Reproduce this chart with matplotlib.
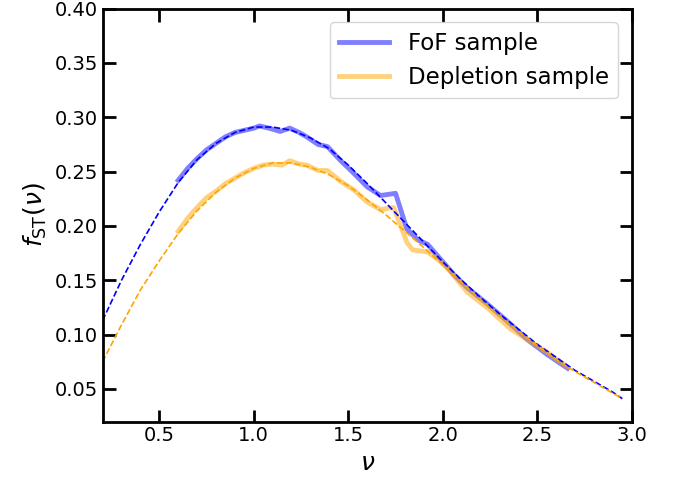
import numpy as np
import matplotlib
matplotlib.use("Agg")
import matplotlib.pyplot as plt

# measured mass function, FoF sample
nu_fof = [0.60, 0.65, 0.70, 0.75, 0.80, 0.85, 0.90, 0.95, 1.00, 1.03, 1.08, 1.14,
          1.19, 1.24, 1.28, 1.34, 1.39, 1.46, 1.52, 1.60, 1.67, 1.75, 1.81, 1.87,
          1.92, 2.00, 2.06, 2.13, 2.23, 2.35, 2.45, 2.55, 2.66]
f_fof = [0.242, 0.253, 0.262, 0.270, 0.276, 0.282, 0.286, 0.288, 0.290, 0.292, 0.290, 0.287,
         0.290, 0.286, 0.282, 0.275, 0.273, 0.260, 0.250, 0.236, 0.228, 0.230, 0.197, 0.187,
         0.183, 0.167, 0.155, 0.143, 0.129, 0.111, 0.095, 0.082, 0.069]

# measured mass function, depletion sample
nu_dep = [0.60, 0.65, 0.70, 0.75, 0.80, 0.85, 0.90, 0.95, 1.00, 1.05, 1.10, 1.15,
          1.19, 1.24, 1.28, 1.34, 1.39, 1.46, 1.53, 1.60, 1.67, 1.74, 1.81, 1.84,
          1.92, 1.99, 2.04, 2.13, 2.24, 2.36, 2.45, 2.55, 2.66]
f_dep = [0.195, 0.207, 0.217, 0.226, 0.232, 0.239, 0.244, 0.249, 0.253, 0.256, 0.257, 0.256,
         0.260, 0.257, 0.256, 0.251, 0.251, 0.241, 0.233, 0.222, 0.215, 0.217, 0.185, 0.178,
         0.176, 0.167, 0.158, 0.139, 0.124, 0.105, 0.095, 0.084, 0.070]

# fitted ST curves
nu_fit = [0.2, 0.3, 0.4, 0.5, 0.6, 0.7, 0.8, 0.9, 1.0, 1.1, 1.2, 1.3, 1.4, 1.5,
          1.6, 1.7, 1.8, 1.9, 2.0, 2.1, 2.2, 2.3, 2.4, 2.5, 2.6, 2.7, 2.8, 2.9, 2.95]
fit_fof = [0.113, 0.150, 0.183, 0.213, 0.240, 0.261, 0.276, 0.286, 0.291, 0.291, 0.288, 0.281,
           0.271, 0.256, 0.239, 0.221, 0.203, 0.185, 0.167, 0.150, 0.134, 0.119, 0.105,
           0.091, 0.079, 0.067, 0.057, 0.047, 0.041]
fit_dep = [0.075, 0.109, 0.141, 0.168, 0.193, 0.214, 0.231, 0.244, 0.253, 0.258, 0.258, 0.254,
           0.247, 0.237, 0.224, 0.210, 0.195, 0.180, 0.164, 0.148, 0.132, 0.117, 0.103,
           0.090, 0.077, 0.066, 0.056, 0.046, 0.041]

fig = plt.figure(figsize=(6.75, 4.79), dpi=100)
ax = fig.add_axes([0.152, 0.12, 0.784, 0.862])

ax.plot(nu_fof, f_fof, color="blue", alpha=0.5, lw=3.5, label="FoF sample")
ax.plot(nu_dep, f_dep, color="orange", alpha=0.5, lw=3.5, label="Depletion sample")
ax.plot(nu_fit, fit_fof, "--", color="blue", lw=1.2)
ax.plot(nu_fit, fit_dep, "--", color="orange", lw=1.2)

ax.set_xlim(0.2, 3.0)
ax.set_ylim(0.02, 0.40)
ax.set_xticks([0.5, 1.0, 1.5, 2.0, 2.5, 3.0])
ax.set_yticks([0.05, 0.10, 0.15, 0.20, 0.25, 0.30, 0.35, 0.40])
ax.tick_params(direction="in", length=9, width=2, labelsize=14,
               top=True, right=True)
for s in ax.spines.values():
    s.set_linewidth(2)

ax.set_xlabel(r"$\nu$", fontsize=18)
ax.set_ylabel(r"$f_{\rm ST}(\nu)$", fontsize=18)
ax.legend(loc="upper right", fontsize=16.5, handlelength=2.2,
          borderaxespad=0.6)

fig.savefig("out.png")
